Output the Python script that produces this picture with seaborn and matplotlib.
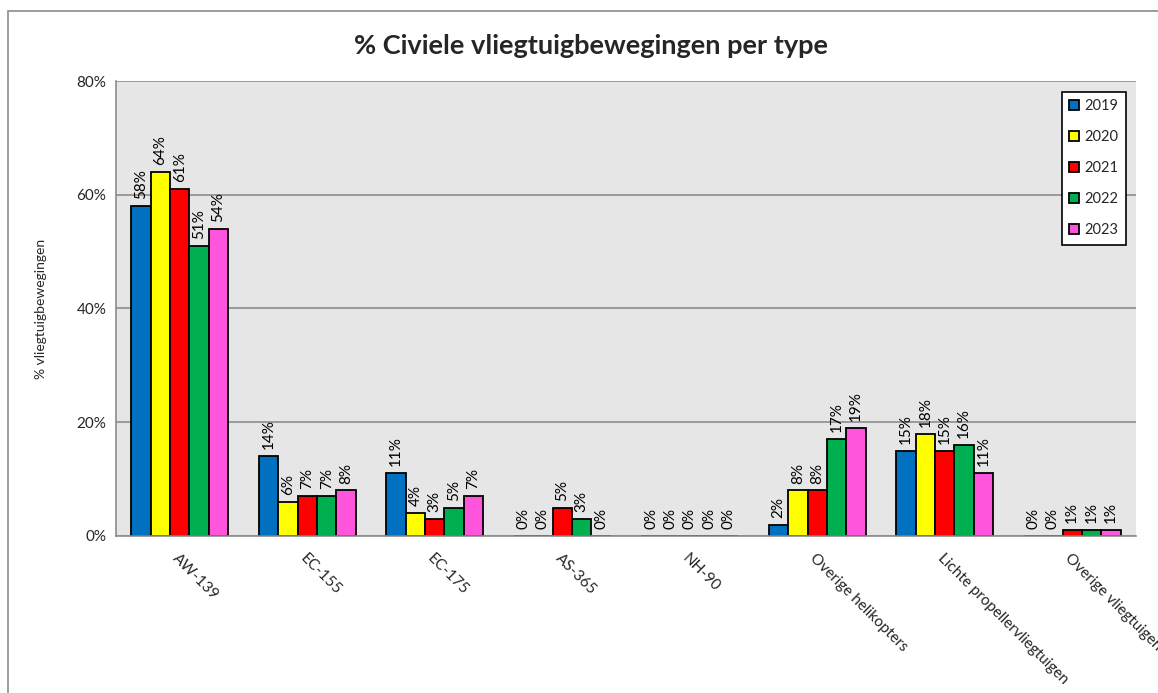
import pandas as pd
import matplotlib.pyplot as plt
import seaborn as sns
from matplotlib.patches import Rectangle
from matplotlib.ticker import FixedLocator, PercentFormatter

# Data
types = ['AW-139', 'EC-155', 'EC-175', 'AS-365', 'NH-90',
         'Overige helikopters', 'Lichte propellervliegtuigen', 'Overige vliegtuigen']
years = ['2019', '2020', '2021', '2022', '2023']
v2019 = [58, 14, 11, 0, 0, 2, 15, 0]
v2020 = [64, 6, 4, 0, 0, 8, 18, 0]
v2021 = [61, 7, 3, 5, 0, 8, 15, 1]
v2022 = [51, 7, 5, 3, 0, 17, 16, 1]
v2023 = [54, 8, 7, 0, 0, 19, 11, 1]
colors = ['#0070C0', '#FFFF00', '#FF0000', '#00B050', '#FF55DD']

rows = []
for year, vals in zip(years, [v2019, v2020, v2021, v2022, v2023]):
    for t, v in zip(types, vals):
        rows.append({'Type': t, 'Jaar': year, 'Pct': v})
df = pd.DataFrame(rows)

sns.set_style('white')
plt.rcParams['font.family'] = ['Lato', 'DejaVu Sans']

fig = plt.figure(figsize=(11.58, 6.93), dpi=100)
ax = fig.add_axes([0.1002, 0.2266, 0.8808, 0.6565])
ax.set_facecolor('#E6E6E6')

sns.barplot(data=df, x='Type', y='Pct', hue='Jaar', order=types, hue_order=years,
            palette=colors, width=0.76, gap=0, edgecolor='black', linewidth=1.3,
            saturation=1, errorbar=None, ax=ax)

# data labels above bars
for cont in ax.containers:
    ax.bar_label(cont, labels=[f'{int(b.get_height())}%' for b in cont],
                 rotation=90, padding=5, fontsize=11, color='black')

ax.set_ylim(0, 80)
ax.set_xlim(-0.5, len(types) - 0.5)
ax.set_yticks([0, 20, 40, 60, 80])
ax.yaxis.set_major_formatter(PercentFormatter(decimals=0))
ax.yaxis.grid(True, color='#8C8C8C', linewidth=1.2)
ax.set_axisbelow(True)

for side in ['top', 'right']:
    ax.spines[side].set_visible(False)
for side in ['left', 'bottom']:
    ax.spines[side].set_color('#8C8C8C')
    ax.spines[side].set_linewidth(1.2)

ax.tick_params(axis='y', length=4, width=1.2, color='#8C8C8C', labelsize=11, pad=3)
ax.tick_params(axis='x', which='major', length=0, pad=11)
ax.xaxis.set_minor_locator(FixedLocator([i - 0.5 for i in range(len(types) + 1)]))
ax.tick_params(axis='x', which='minor', length=5, width=1.2, color='#8C8C8C')
ax.set_xticks(range(len(types)))
ax.set_xticklabels(types, rotation=-45, ha='left', va='top',
                   rotation_mode='anchor', fontsize=11)

ax.set_xlabel('')
ax.set_ylabel('% vliegtuigbewegingen', fontsize=10, labelpad=21)

leg = ax.legend(loc='upper right', bbox_to_anchor=(0.990, 0.976), borderaxespad=0,
                frameon=True, fancybox=False, edgecolor='black', fontsize=10.5,
                handlelength=0.7, handleheight=0.7, labelspacing=1.17,
                borderpad=0.5, handletextpad=0.35, framealpha=1)
leg.get_frame().set_linewidth(1.2)

fig.suptitle('% Civiele vliegtuigbewegingen per type', fontsize=19.5,
             fontweight='bold', x=0.51, y=0.951)

# outer chart border
fig.patches.append(Rectangle((8 / 1158, -0.1), 1.2, 1 - 11 / 693 + 0.1,
                             transform=fig.transFigure, fill=False,
                             edgecolor='#8C8C8C', linewidth=1.2))

fig.savefig('out.png', dpi=100)
